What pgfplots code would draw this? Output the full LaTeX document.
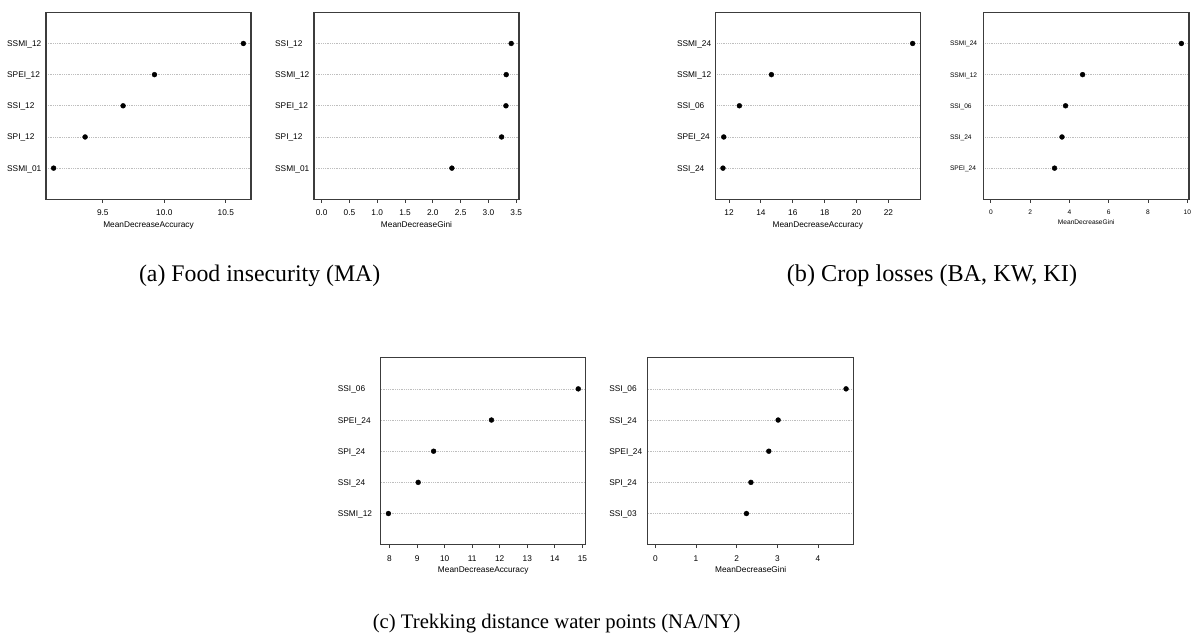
\documentclass[border=0pt]{standalone}
\usepackage{fontspec}
\usepackage{pgfplots}
\pgfplotsset{compat=1.18}
\newfontfamily\rfont{Liberation Sans}
\newfontfamily\capfont{Liberation Serif}
\newcommand\lbl{\rfont\fontsize{8.3}{9}\selectfont}
\newcommand\lbls{\rfont\fontsize{6.6}{7.5}\selectfont}
\definecolor{gridgray}{RGB}{190,190,190}
\definecolor{boxgray}{RGB}{60,60,60}

% one R dotchart panel; #1 = left gap of the row labels
\pgfplotsset{
  dot/.style={
    scale only axis, width=205pt, height=187pt, anchor=north west,
    ymin=0, ymax=6, ytick={1,...,5},
    ymajorgrids, major grid style={gridgray, line width=0.6pt, dash pattern=on 0.7pt off 1.1pt},
    axis line style={boxgray, line width=1.2pt},
    tick align=outside, tick pos=left, major tick length=3.5pt,
    ytick style={draw=none}, xtick style={boxgray, line width=0.9pt},
    /pgf/number format/assume math mode=true,
    tick label style={font=\lbl},
    xticklabel style={anchor=base, yshift=-13pt},
    yticklabel style={anchor=base west, inner sep=0pt, xshift=-#1, yshift=-3pt},
    xlabel style={font=\lbl, at={(axis description cs:0.5,0)}, anchor=base, yshift=-28pt},
  },
  pts/.style={only marks, mark=*, mark size=2.45pt, mark options={fill=black, draw=black}},
}

\begin{document}
\begin{tikzpicture}
\useasboundingbox (0,0) rectangle (1192pt,-639pt);

% (a) food insecurity
\begin{axis}[dot=35.5pt, at={(46pt,-12.3pt)},
  xmin=9.038, xmax=10.705, xtick={9.5,10,10.5},
  xticklabel style={/pgf/number format/.cd, fixed, fixed zerofill, precision=1},
  yticklabels={SSMI\_01, SPI\_12, SSI\_12, SPEI\_12, SSMI\_12},
  xlabel={MeanDecreaseAccuracy}]
\addplot[pts] coordinates {(9.10,1) (9.356,2) (9.665,3) (9.92,4) (10.643,5)};
\end{axis}

\begin{axis}[dot=35.5pt, at={(314pt,-12.3pt)},
  xmin=-0.137, xmax=3.55, xtick={0,0.5,...,3.5},
  xticklabel style={/pgf/number format/.cd, fixed, fixed zerofill, precision=1},
  yticklabels={SSMI\_01, SPI\_12, SPEI\_12, SSMI\_12, SSI\_12},
  xlabel={MeanDecreaseGini}]
\addplot[pts] coordinates {(2.343,1) (3.237,2) (3.315,3) (3.32,4) (3.41,5)};
\end{axis}

% (b) crop losses
\begin{axis}[dot=35pt, at={(715.3pt,-12.3pt)},
  xmin=11.14, xmax=24.0, xtick={12,14,...,22},
  yticklabels={SSI\_24, SPEI\_24, SSI\_06, SSMI\_12, SSMI\_24},
  xlabel={MeanDecreaseAccuracy}]
\addplot[pts] coordinates {(11.62,1) (11.67,2) (12.65,3) (14.66,4) (23.52,5)};
\end{axis}

% this panel's text is set smaller in the reference; shifts below add to the style's
\begin{axis}[dot=30pt, at={(983.3pt,-12.3pt)}, width=205.7pt,
  xmin=-0.388, xmax=10.088, xtick={0,2,...,10},
  tick label style={font=\lbls},
  xticklabel style={yshift=1.5pt},
  yticklabel style={yshift=0.6pt},
  xlabel style={font=\lbls, yshift=3pt},
  yticklabels={SPEI\_24, SSI\_24, SSI\_06, SSMI\_12, SSMI\_24},
  xlabel={MeanDecreaseGini}]
\addplot[pts] coordinates {(3.24,1) (3.62,2) (3.80,3) (4.67,4) (9.70,5)};
\end{axis}

% (c) trekking distance
\begin{axis}[dot=39.5pt, at={(380.7pt,-357.7pt)},
  xmin=7.68, xmax=15.12, xtick={8,...,15},
  yticklabels={SSMI\_12, SSI\_24, SPI\_24, SPEI\_24, SSI\_06},
  xlabel={MeanDecreaseAccuracy}]
\addplot[pts] coordinates {(7.96,1) (9.04,2) (9.60,3) (11.70,4) (14.85,5)};
\end{axis}

\begin{axis}[dot=35pt, at={(647.7pt,-357.7pt)}, width=206pt,
  xmin=-0.188, xmax=4.878, xtick={0,...,4},
  yticklabels={SSI\_03, SPI\_24, SPEI\_24, SSI\_24, SSI\_06},
  xlabel={MeanDecreaseGini}]
\addplot[pts] coordinates {(2.24,1) (2.35,2) (2.79,3) (3.02,4) (4.69,5)};
\end{axis}

\node[anchor=base, font=\capfont\fontsize{23.8}{26}\selectfont] at (259.7pt,-281pt) {(a) Food insecurity (MA)};
\node[anchor=base, font=\capfont\fontsize{24.2}{26}\selectfont] at (932pt,-281pt) {(b) Crop losses (BA, KW, KI)};
\node[anchor=base, font=\capfont\fontsize{20.7}{23}\selectfont] at (556.7pt,-628pt) {(c) Trekking distance water points (NA/NY)};
\end{tikzpicture}
\end{document}
